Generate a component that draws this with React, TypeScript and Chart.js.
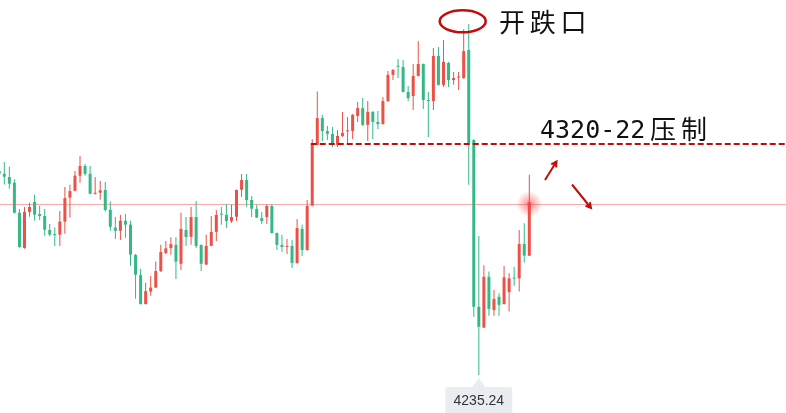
import { useEffect, useRef } from "react"
import { Chart, registerables, type Plugin } from "chart.js"

Chart.register(...registerables)

// OHLC per candle, oldest first (price)
const openPrices = [
  4310.7, 4309.7, 4308.5, 4306.4, 4295.3, 4282.3, 4295.6, 4299.3, 4294.8, 4294.1,
  4288.9, 4287.4, 4287.2, 4292.0, 4300.9, 4303.4, 4309.0, 4312.6, 4309.7, 4302.3,
  4302.7, 4303.7, 4296.4, 4289.8, 4288.6, 4292.3, 4290.9, 4279.7, 4272.3, 4261.5,
  4266.1, 4267.6, 4273.7, 4280.4, 4282.2, 4283.4, 4276.4, 4288.9, 4286.4, 4293.7,
  4283.4, 4276.1, 4283.0, 4288.2, 4294.8, 4294.5, 4292.2, 4293.8, 4303.8, 4307.4,
  4300.0, 4296.7, 4293.3, 4293.7, 4297.8, 4287.8, 4283.4, 4282.6, 4283.0, 4276.7,
  4289.3, 4281.5, 4297.9, 4320.4, 4330.3, 4325.5, 4324.4, 4320.4, 4323.7, 4325.4,
  4325.5, 4331.1, 4334.0, 4327.8, 4332.6, 4328.9, 4328.1, 4336.6, 4346.3, 4349.7,
  4349.2, 4340.0, 4338.5, 4345.9, 4350.3, 4337.0, 4336.6, 4353.3, 4342.6, 4350.7,
  4344.4, 4345.3, 4345.1, 4355.5, 4322.2, 4260.5, 4252.8, 4271.6, 4259.3, 4264.2,
  4261.5, 4265.9, 4271.3, 4271.0, 4283.7, 4279.4,
]
const highPrices = [
  4311.8, 4314.1, 4312.3, 4307.7, 4296.7, 4297.4, 4299.0, 4301.9, 4297.9, 4296.7,
  4291.1, 4289.8, 4295.9, 4304.8, 4305.6, 4310.7, 4316.3, 4313.3, 4312.6, 4308.5,
  4307.0, 4306.7, 4299.4, 4293.7, 4294.5, 4294.8, 4292.3, 4280.0, 4274.6, 4269.4,
  4271.9, 4277.2, 4283.4, 4284.8, 4286.2, 4286.2, 4295.3, 4293.7, 4297.4, 4299.6,
  4283.4, 4287.1, 4294.1, 4296.3, 4297.4, 4298.5, 4298.2, 4303.9, 4309.6, 4309.6,
  4301.5, 4298.2, 4295.6, 4298.3, 4298.3, 4288.0, 4287.1, 4285.6, 4285.2, 4293.0,
  4290.8, 4300.0, 4322.6, 4340.1, 4331.5, 4327.4, 4327.0, 4325.9, 4332.6, 4330.7,
  4331.8, 4336.3, 4337.7, 4336.6, 4332.9, 4332.9, 4338.1, 4347.7, 4348.5, 4352.2,
  4351.8, 4342.2, 4350.3, 4358.8, 4350.5, 4340.0, 4356.2, 4356.6, 4359.2, 4351.1,
  4347.4, 4347.4, 4363.2, 4365.1, 4322.5, 4286.7, 4275.9, 4273.5, 4266.7, 4265.5,
  4275.6, 4272.9, 4275.3, 4288.9, 4291.4, 4309.3,
]
const lowPrices = [
  4308.9, 4305.7, 4304.2, 4295.0, 4282.3, 4282.0, 4293.8, 4292.3, 4292.6, 4286.8,
  4286.6, 4283.0, 4283.0, 4287.5, 4293.5, 4303.2, 4306.4, 4309.0, 4302.1, 4302.0,
  4300.1, 4295.7, 4288.6, 4285.6, 4285.2, 4286.0, 4275.7, 4263.5, 4261.3, 4261.3,
  4264.6, 4267.4, 4273.4, 4280.0, 4279.7, 4270.8, 4274.1, 4283.0, 4283.4, 4282.2,
  4273.7, 4276.0, 4282.9, 4284.8, 4290.8, 4289.6, 4291.5, 4292.2, 4301.1, 4297.4,
  4293.7, 4293.3, 4291.1, 4291.1, 4287.6, 4281.5, 4280.8, 4280.0, 4274.8, 4276.4,
  4279.3, 4281.2, 4297.7, 4320.2, 4321.8, 4322.2, 4319.6, 4319.6, 4323.3, 4320.4,
  4322.6, 4328.9, 4327.4, 4321.8, 4322.6, 4326.3, 4327.9, 4336.3, 4344.4, 4345.1,
  4339.8, 4336.6, 4333.3, 4345.7, 4333.7, 4323.3, 4333.3, 4342.4, 4341.8, 4341.8,
  4342.6, 4340.7, 4344.9, 4305.6, 4256.8, 4235.24, 4252.6, 4257.2, 4257.2, 4257.2,
  4261.3, 4258.7, 4268.3, 4266.1, 4276.9, 4279.3,
]
const closePrices = [
  4309.7, 4308.6, 4306.0, 4295.3, 4282.6, 4295.6, 4297.4, 4294.6, 4294.1, 4289.0,
  4287.2, 4287.0, 4292.0, 4300.7, 4303.3, 4309.0, 4312.6, 4309.7, 4302.3, 4302.7,
  4303.6, 4296.3, 4290.1, 4288.6, 4292.3, 4290.9, 4279.8, 4272.4, 4261.5, 4266.3,
  4267.6, 4273.7, 4280.8, 4282.1, 4283.7, 4277.2, 4289.3, 4286.3, 4293.7, 4283.0,
  4276.4, 4283.0, 4288.2, 4294.5, 4294.6, 4292.2, 4293.7, 4303.7, 4307.4, 4300.0,
  4296.8, 4293.5, 4292.2, 4297.8, 4287.8, 4283.4, 4282.6, 4282.9, 4276.7, 4289.6,
  4281.5, 4297.8, 4320.4, 4330.3, 4325.5, 4324.5, 4320.4, 4323.7, 4324.8, 4325.6,
  4331.5, 4334.0, 4327.8, 4332.6, 4328.9, 4328.1, 4336.6, 4346.3, 4348.1, 4349.3,
  4340.0, 4337.7, 4345.9, 4350.3, 4337.0, 4336.6, 4353.3, 4342.6, 4351.1, 4344.4,
  4345.1, 4345.5, 4355.1, 4321.1, 4260.5, 4253.1, 4271.6, 4259.7, 4263.4, 4261.2,
  4271.4, 4271.0, 4270.9, 4283.7, 4279.4, 4298.5,
]

const resistance = 4320.7
const resistanceFrom = 62 // candle where the dashed line starts
const resistanceLabel = "4320-22"
const resistanceWord = ["压", "制"]
const gapWord = ["开", "跌", "口"]

const UP = "#ec5148"
const DOWN = "#34b985"
const MARK = "#c20d0d"

const W = 786
const H = 413

const idx = openPrices.map((_, i) => i)
const candleColors = idx.map((i) => (closePrices[i] >= openPrices[i] ? UP : DOWN))

function drawArrow(ctx: CanvasRenderingContext2D, x1: number, y1: number, x2: number, y2: number) {
  const a = Math.atan2(y2 - y1, x2 - x1)
  const head = 6
  ctx.beginPath()
  ctx.moveTo(x1, y1)
  ctx.lineTo(x2, y2)
  ctx.moveTo(x2 - head * Math.cos(a - 0.5), y2 - head * Math.sin(a - 0.5))
  ctx.lineTo(x2, y2)
  ctx.lineTo(x2 - head * Math.cos(a + 0.5), y2 - head * Math.sin(a + 0.5))
  ctx.stroke()
}

const overlay: Plugin<"bar"> = {
  id: "overlay",
  beforeDatasetsDraw(chart) {
    const { ctx } = chart
    const y = chart.scales.y
    const py = Math.round(y.getPixelForValue(closePrices[closePrices.length - 1])) + 0.5
    ctx.save()
    ctx.strokeStyle = "rgba(238, 100, 100, 0.55)"
    ctx.lineWidth = 1
    ctx.beginPath()
    ctx.moveTo(0, py)
    ctx.lineTo(W, py)
    ctx.stroke()
    ctx.restore()
  },
  afterDatasetsDraw(chart) {
    const { ctx } = chart
    const x = chart.scales.x
    const y = chart.scales.y
    ctx.save()

    // resistance dashed line
    const ry = y.getPixelForValue(resistance)
    ctx.strokeStyle = MARK
    ctx.lineWidth = 2
    ctx.setLineDash([6, 3])
    ctx.beginPath()
    ctx.moveTo(x.getPixelForValue(resistanceFrom) - 1.5, ry)
    ctx.lineTo(W, ry)
    ctx.stroke()
    ctx.setLineDash([])

    // glow on the last price
    const last = closePrices.length - 1
    const gx = x.getPixelForValue(last)
    const gy = y.getPixelForValue(closePrices[last])
    const g = ctx.createRadialGradient(gx, gy, 0, gx, gy, 13)
    g.addColorStop(0, "rgba(255, 60, 60, 0.6)")
    g.addColorStop(1, "rgba(255, 60, 60, 0)")
    ctx.fillStyle = g
    ctx.beginPath()
    ctx.arc(gx, gy, 13, 0, Math.PI * 2)
    ctx.fill()
    ctx.fillStyle = "#f04a4a"
    ctx.beginPath()
    ctx.arc(gx, gy, 2, 0, Math.PI * 2)
    ctx.fill()

    // ellipse around the gap
    ctx.strokeStyle = MARK
    ctx.lineWidth = 2.5
    ctx.beginPath()
    ctx.ellipse(462.7, 21.3, 23, 11, 0, 0, Math.PI * 2)
    ctx.stroke()

    // arrows
    ctx.lineWidth = 2
    drawArrow(ctx, 545, 180, 556.5, 161.5)
    drawArrow(ctx, 572, 184.5, 591, 208)

    // texts
    ctx.fillStyle = "#111"
    ctx.textBaseline = "alphabetic"
    ctx.textAlign = "left"
    ctx.font = '26px "Noto Sans CJK SC"'
    gapWord.forEach((ch, i) => ctx.fillText(ch, 499 + i * 30.7, 31.5))
    ctx.font = '25px "DejaVu Sans Mono"'
    ctx.fillText(resistanceLabel, 540, 137.5)
    ctx.font = '26px "Noto Sans CJK SC"'
    resistanceWord.forEach((ch, i) => ctx.fillText(ch, 650 + i * 31, 138.5))

    // low price label
    let lowIdx = 0
    lowPrices.forEach((v, i) => {
      if (v < lowPrices[lowIdx]) lowIdx = i
    })
    const lx = x.getPixelForValue(lowIdx)
    const ly = y.getPixelForValue(lowPrices[lowIdx])
    ctx.fillStyle = "#e9ecf0"
    ctx.beginPath()
    ctx.roundRect(lx - 33.5, ly + 12, 67, 32, 3)
    ctx.fill()
    ctx.beginPath()
    ctx.moveTo(lx - 7, ly + 12.5)
    ctx.lineTo(lx, ly + 3)
    ctx.lineTo(lx + 7, ly + 12.5)
    ctx.closePath()
    ctx.fill()
    ctx.fillStyle = "#333"
    ctx.textAlign = "center"
    ctx.font = '14px "Liberation Sans", Arial, sans-serif'
    ctx.fillText(lowPrices[lowIdx].toFixed(2), lx, ly + 30)

    ctx.restore()
  },
}

export default function App() {
  const chartRef = useRef<HTMLCanvasElement>(null)
  const chartInstance = useRef<Chart | null>(null)

  useEffect(() => {
    if (!chartRef.current) return
    const ctx = chartRef.current.getContext("2d")
    if (!ctx) return

    if (chartInstance.current) {
      chartInstance.current.destroy()
    }

    chartInstance.current = new Chart(ctx, {
      type: "bar",
      data: {
        datasets: [
          {
            label: "body",
            data: idx.map((i) => ({ x: i, y: [openPrices[i], closePrices[i]] })) as any,
            backgroundColor: candleColors,
            barThickness: 3,
            minBarLength: 1,
            grouped: false,
            borderWidth: 0,
            inflateAmount: 0,
          },
          {
            label: "wick",
            data: idx.map((i) => ({ x: i, y: [lowPrices[i], highPrices[i]] })) as any,
            backgroundColor: candleColors,
            barThickness: 1,
            grouped: false,
            borderWidth: 0,
            inflateAmount: 0,
          },
        ],
      },
      options: {
        responsive: false,
        animation: false,
        layout: { padding: 0 },
        scales: {
          x: { type: "linear", min: 0.148, max: 155.85, offset: false, display: false },
          y: { type: "linear", min: 4221.19, max: 4374, display: false },
        },
        plugins: {
          legend: { display: false },
          tooltip: { enabled: false },
        },
      },
      plugins: [overlay],
    })

    return () => {
      if (chartInstance.current) {
        chartInstance.current.destroy()
        chartInstance.current = null
      }
    }
  }, [])

  return (
    <div style={{ position: "fixed", left: 0, top: 0, width: W, height: H, background: "#fff" }}>
      <canvas ref={chartRef} width={W} height={H} style={{ display: "block" }}></canvas>
    </div>
  )
}
